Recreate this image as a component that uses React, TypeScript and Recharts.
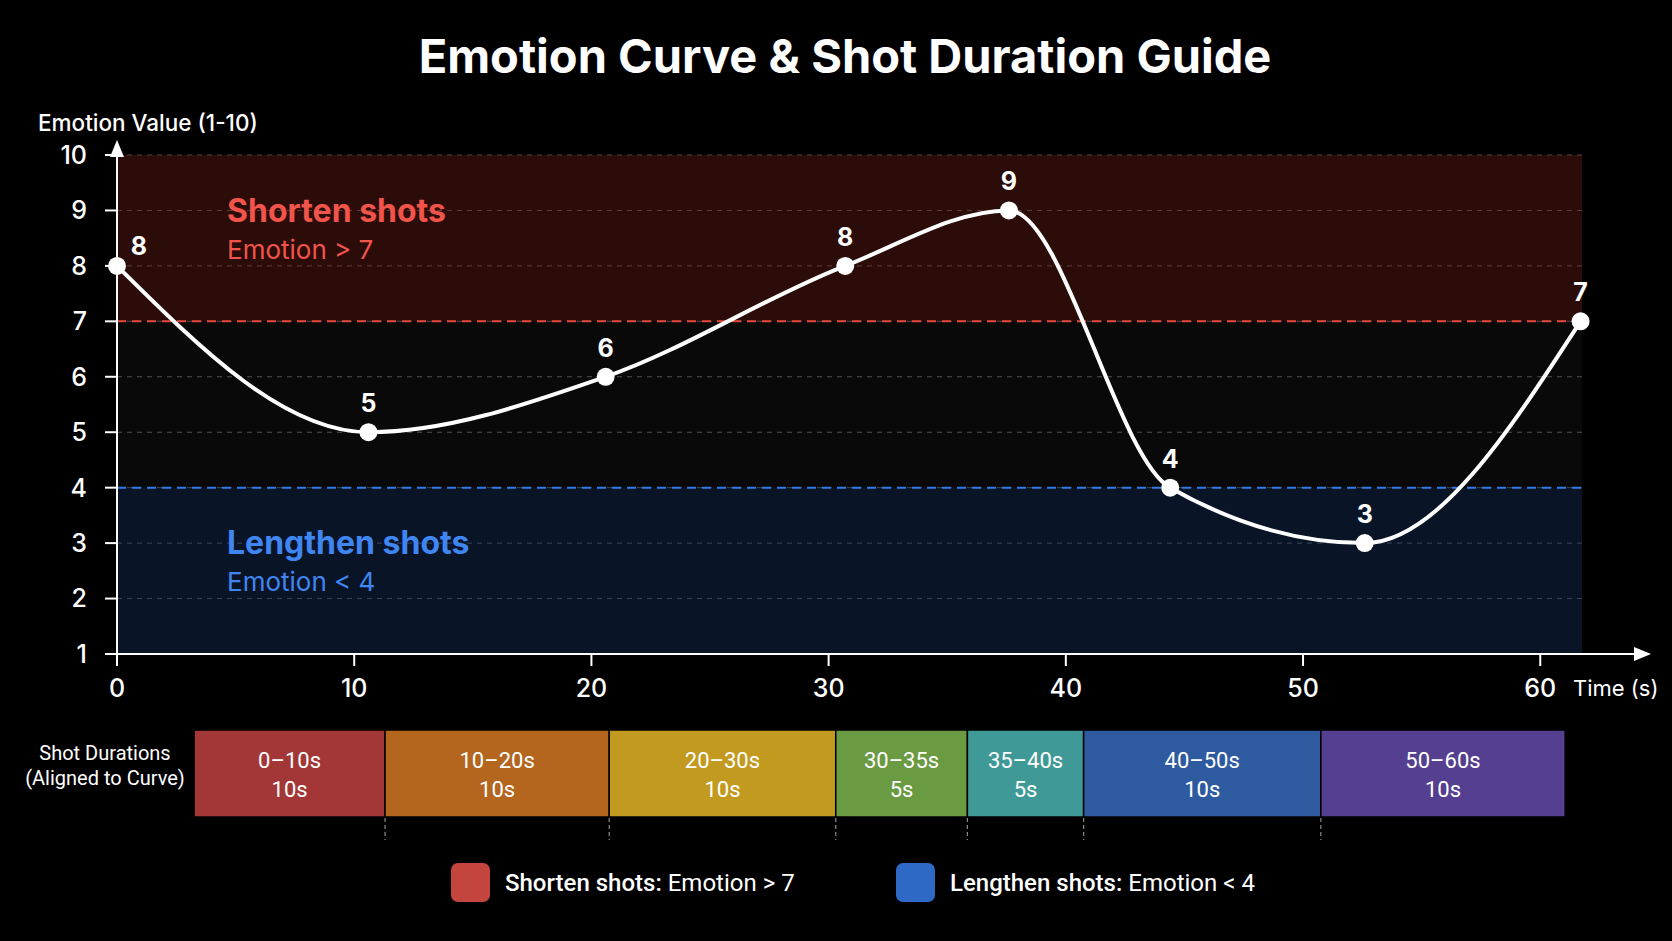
import React from 'react';
import {
  ComposedChart,
  Line,
  XAxis,
  YAxis,
  CartesianGrid,
  ReferenceArea,
  ReferenceLine,
  LabelList,
  BarChart,
  Bar,
} from 'recharts';

// emotion curve (time in seconds, emotion 1-10)
const timeSec = [0, 10.6, 20.6, 30.7, 37.6, 44.4, 52.6, 61.7];
const emotion = [8, 5, 6, 8, 9, 4, 3, 7];
const xTicks = [0, 10, 20, 30, 40, 50, 60];
const yTicks = [1, 2, 3, 4, 5, 6, 7, 8, 9, 10];

// shot duration strip, drawn on the same time axis as the curve
const shotLabels = ['0–10s', '10–20s', '20–30s', '30–35s', '35–40s', '40–50s', '50–60s'];
const shotDurations = ['10s', '10s', '10s', '5s', '5s', '10s', '10s'];
const shotStart = [3.25, 11.3, 20.75, 30.3, 35.85, 40.75, 50.75];
const shotEnd = [11.3, 20.75, 30.3, 35.85, 40.75, 50.75, 61.05];
const shotColors = ['#a33636', '#b4651e', '#c39a20', '#6a9a42', '#3f9a97', '#2e5b9f', '#553f90'];

const SHORTEN_ABOVE = 7;
const LENGTHEN_BELOW = 4;

const W = 1672;
const H = 941;
const X_MAX = 61.76;
const PLOT_LEFT = 117;
const PLOT_RIGHT = 1582;
const PLOT_TOP = 155;
const PLOT_BOTTOM = 654;
const MAIN_H = 720;

const curveData = timeSec.map((t, i) => ({ t, emotion: emotion[i] }));

// one stacked row: an empty lead-in, then each shot's length
const shotRow: Record<string, any> = { lane: 'shots', lead: shotStart[0] };
shotLabels.forEach((_, i) => {
  shotRow[`seg${i}`] = shotEnd[i] - shotStart[i];
});
const shotData = [shotRow];

const FONT = 'Inter, "Noto Sans", sans-serif';
const FONT_NARROW = 'Roboto, "Noto Sans", sans-serif';

function zoneLabel(title: string, sub: string, color: string) {
  return (props: any) => {
    const vb = props.viewBox || {};
    const x = (vb.x ?? 0) + 110;
    const y = vb.y ?? 0;
    return (
      <g>
        <text x={x} y={y + 55} fill={color} fontSize={32} fontWeight={700} fontFamily={FONT} dominantBaseline="central">
          {title}
        </text>
        <text x={x} y={y + 94} fill={color} fontSize={26} fontWeight={400} fontFamily={FONT} dominantBaseline="central">
          {sub}
        </text>
      </g>
    );
  };
}

const PointLabel = (props: any) => {
  const { x, y, value } = props;
  const first = x < PLOT_LEFT + 10;
  return (
    <text
      x={x + (first ? 22 : 0)}
      y={y - (first ? 20 : 29)}
      textAnchor="middle"
      dominantBaseline="central"
      fill="#fff"
      fontSize={25}
      fontWeight={700}
      fontFamily={FONT}
    >
      {value}
    </text>
  );
};

const makeShotBlock = (i: number) => (props: any) => {
  const { x, y, width, height } = props;
  const last = i === shotLabels.length - 1;
  const cx = x + width / 2;
  const cy = y + height / 2;
  return (
    <g>
      <rect x={x} y={y} width={width} height={height} fill={shotColors[i]} stroke="#000" strokeWidth={1.5} />
      <text x={cx} y={cy - 13} textAnchor="middle" dominantBaseline="central" fill="#fff" fontSize={22} fontFamily={FONT_NARROW}>
        {shotLabels[i]}
      </text>
      <text x={cx} y={cy + 16} textAnchor="middle" dominantBaseline="central" fill="#fff" fontSize={22} fontFamily={FONT_NARROW}>
        {shotDurations[i]}
      </text>
      {!last && (
        <line
          x1={x + width}
          x2={x + width}
          y1={y + height + 1}
          y2={y + height + 23}
          stroke="#8a8a8a"
          strokeWidth={1.2}
          strokeDasharray="4 3"
        />
      )}
    </g>
  );
};

export default function App() {
  const tickStyle = { fill: '#fff', fontSize: 25, fontWeight: 500, fontFamily: FONT };
  return (
    <div
      style={{
        position: 'absolute',
        left: 0,
        top: 0,
        width: W,
        height: H,
        background: '#000',
        overflow: 'hidden',
        fontFamily: FONT,
        color: '#fff',
      }}
    >
      <div
        style={{
          position: 'absolute',
          left: 845,
          top: 26,
          transform: 'translateX(-50%)',
          whiteSpace: 'nowrap',
          fontSize: 47,
          fontWeight: 700,
          lineHeight: '60px',
        }}
      >
        Emotion Curve &amp; Shot Duration Guide
      </div>

      <div style={{ position: 'absolute', left: 38, top: 110, fontSize: 22.5, fontWeight: 500, lineHeight: '26px', whiteSpace: 'nowrap' }}>
        Emotion Value (1-10)
      </div>

      <div style={{ position: 'absolute', left: 0, top: 0 }}>
        <ComposedChart
          width={W}
          height={MAIN_H}
          data={curveData}
          margin={{ top: PLOT_TOP, right: W - PLOT_RIGHT, bottom: 26, left: 57 }}
        >
          <ReferenceArea
            y1={SHORTEN_ABOVE}
            y2={10}
            fill="#8a2418"
            fillOpacity={0.32}
            stroke="none"
            label={zoneLabel('Shorten shots', 'Emotion > 7', '#f0544a')}
          />
          <ReferenceArea y1={LENGTHEN_BELOW} y2={SHORTEN_ABOVE} fill="#ffffff" fillOpacity={0.035} stroke="none" />
          <ReferenceArea
            y1={1}
            y2={LENGTHEN_BELOW}
            fill="#1e3f7a"
            fillOpacity={0.32}
            stroke="none"
            label={zoneLabel('Lengthen shots', 'Emotion < 4', '#3f86f2')}
          />
          <CartesianGrid vertical={false} stroke="#4a4a4a" strokeDasharray="5 5" />
          <XAxis
            type="number"
            dataKey="t"
            domain={[0, X_MAX]}
            ticks={xTicks}
            interval={0}
            height={40}
            axisLine={false}
            tickLine={{ stroke: '#fff', strokeWidth: 2 }}
            tickSize={12}
            tickMargin={13}
            tick={tickStyle}
          />
          <YAxis
            type="number"
            domain={[1, 10]}
            ticks={yTicks}
            interval={0}
            width={60}
            axisLine={false}
            tickLine={{ stroke: '#fff', strokeWidth: 2 }}
            tickSize={12}
            tickMargin={18}
            tick={tickStyle}
          />
          <ReferenceLine y={SHORTEN_ABOVE} stroke="#e5493d" strokeWidth={2} strokeDasharray="9 6" />
          <ReferenceLine y={LENGTHEN_BELOW} stroke="#2e7ae6" strokeWidth={2} strokeDasharray="9 6" />
          <Line
            type="monotone"
            dataKey="emotion"
            stroke="#fff"
            strokeWidth={4}
            dot={{ r: 9, fill: '#fff', stroke: '#fff', strokeWidth: 0 }}
            activeDot={false}
            isAnimationActive={false}
          >
            <LabelList dataKey="emotion" content={PointLabel} />
          </Line>
        </ComposedChart>
      </div>

      {/* axis lines with arrow heads */}
      <svg width={W} height={H} style={{ position: 'absolute', left: 0, top: 0, pointerEvents: 'none' }}>
        <line x1={PLOT_LEFT} y1={PLOT_BOTTOM} x2={PLOT_LEFT} y2={150} stroke="#fff" strokeWidth={2} />
        <polygon points={`${PLOT_LEFT},140 ${PLOT_LEFT - 7},157 ${PLOT_LEFT + 7},157`} fill="#fff" />
        <line x1={PLOT_LEFT} y1={PLOT_BOTTOM} x2={1638} y2={PLOT_BOTTOM} stroke="#fff" strokeWidth={2} />
        <polygon points={`1651,${PLOT_BOTTOM} 1634,${PLOT_BOTTOM - 7} 1634,${PLOT_BOTTOM + 7}`} fill="#fff" />
      </svg>

      <div style={{ position: 'absolute', left: 1573, top: 675, fontSize: 22, lineHeight: '26px', whiteSpace: 'nowrap' }}>
        Time (s)
      </div>

      <div
        style={{
          position: 'absolute',
          left: 0,
          width: 210,
          top: 741,
          textAlign: 'center',
          fontFamily: FONT_NARROW,
          fontSize: 20,
          lineHeight: '25px',
        }}
      >
        Shot Durations
        <br />
        (Aligned to Curve)
      </div>

      <div style={{ position: 'absolute', left: 0, top: 730 }}>
        <BarChart
          layout="vertical"
          width={W}
          height={112}
          data={shotData}
          margin={{ top: 0, right: W - PLOT_RIGHT, bottom: 25, left: PLOT_LEFT }}
          barCategoryGap={0}
        >
          <XAxis type="number" domain={[0, X_MAX]} hide />
          <YAxis type="category" dataKey="lane" hide />
          <Bar dataKey="lead" stackId="shots" fill="transparent" isAnimationActive={false} />
          {shotLabels.map((_, i) => (
            <Bar key={i} dataKey={`seg${i}`} stackId="shots" isAnimationActive={false} shape={makeShotBlock(i)} />
          ))}
        </BarChart>
      </div>

      <div style={{ position: 'absolute', left: 451, top: 863, display: 'flex', alignItems: 'center', fontFamily: FONT_NARROW, fontSize: 24 }}>
        <div style={{ width: 39, height: 39, borderRadius: 7, background: '#c4453d', marginRight: 15 }} />
        <span style={{ fontWeight: 500 }}>Shorten shots:</span>
        <span style={{ marginLeft: 6 }}>Emotion &gt; 7</span>
      </div>
      <div style={{ position: 'absolute', left: 896, top: 863, display: 'flex', alignItems: 'center', fontFamily: FONT_NARROW, fontSize: 24 }}>
        <div style={{ width: 39, height: 39, borderRadius: 7, background: '#2f69c6', marginRight: 15 }} />
        <span style={{ fontWeight: 500 }}>Lengthen shots:</span>
        <span style={{ marginLeft: 6 }}>Emotion &lt; 4</span>
      </div>
    </div>
  );
}
